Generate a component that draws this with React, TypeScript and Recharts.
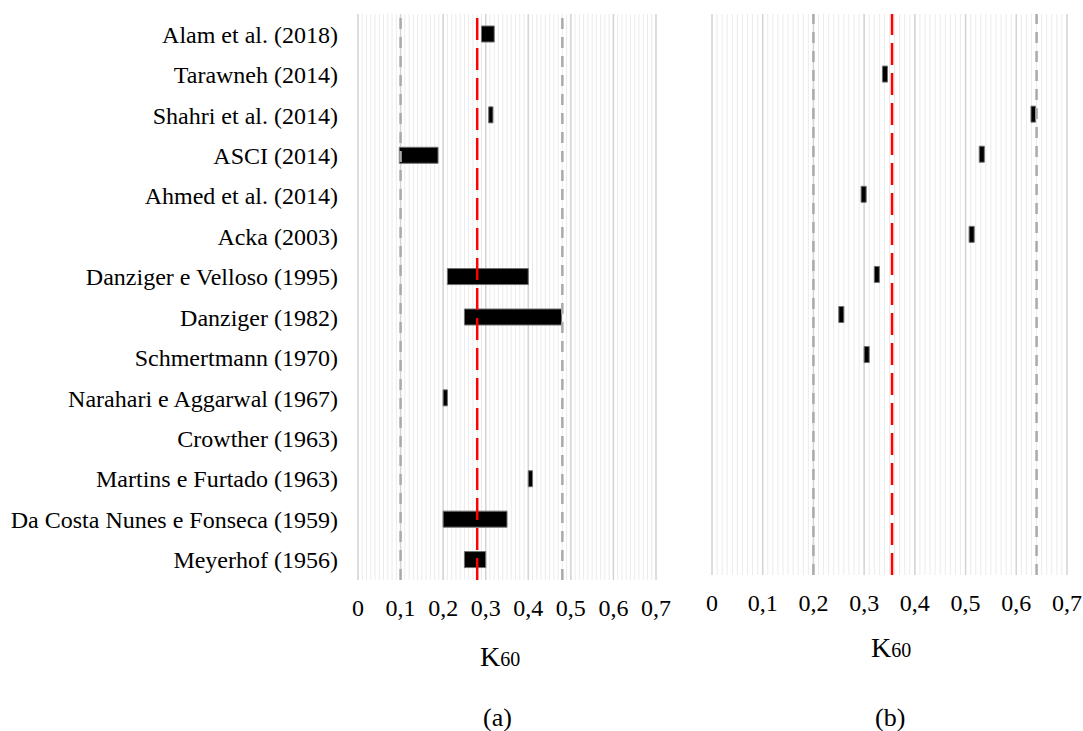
import { BarChart, Bar, XAxis, YAxis, CartesianGrid, ReferenceLine } from 'recharts';

const categories = [
  'Alam et al. (2018)',
  'Tarawneh (2014)',
  'Shahri et al. (2014)',
  'ASCI (2014)',
  'Ahmed et al. (2014)',
  'Acka (2003)',
  'Danziger e Velloso (1995)',
  'Danziger (1982)',
  'Schmertmann (1970)',
  'Narahari e Aggarwal (1967)',
  'Crowther (1963)',
  'Martins e Furtado (1963)',
  'Da Costa Nunes e Fonseca (1959)',
  'Meyerhof (1956)',
];

// (a) ranges of K60 per author
const leftLow = [0.29, null, 0.307, 0.097, null, null, 0.21, 0.25, null, 0.2, null, 0.4, 0.2, 0.25];
const leftHigh = [0.32, null, 0.317, 0.188, null, null, 0.4, 0.478, null, 0.21, null, 0.41, 0.35, 0.3];

// (b)
const rightLow = [null, 0.336, 0.629, 0.527, 0.294, 0.507, 0.32, 0.25, 0.3, null, null, null, null, null];
const rightHigh = [null, 0.346, 0.638, 0.537, 0.304, 0.517, 0.33, 0.26, 0.31, null, null, null, null, null];

const majorTicks = [0, 0.1, 0.2, 0.3, 0.4, 0.5, 0.6, 0.7];
const minorTicks: number[] = [];
for (let i = 0; i <= 70; i++) minorTicks.push(i / 100);

const leftLines = { lower: 0.1, mean: 0.28, upper: 0.48 };
const rightLines = { lower: 0.2, mean: 0.355, upper: 0.64 };

const font = 'Liberation Serif, Times New Roman, serif';

const buildRows = (low: (number | null)[], high: (number | null)[]) =>
  categories.map((name, i) => ({
    name,
    base: low[i],
    span: low[i] != null && high[i] != null ? (high[i] as number) - (low[i] as number) : null,
  }));

const fmt = (v: number) => (v === 0 ? '0' : v.toFixed(1).replace('.', ','));

type PanelProps = {
  rows: ReturnType<typeof buildRows>;
  lines: { lower: number; mean: number; upper: number };
  showLabels: boolean;
  width: number;
  margin: { top: number; right: number; left: number; bottom: number };
};

function Panel({ rows, lines, showLabels, width, margin }: PanelProps) {
  return (
    <BarChart width={width} height={640} data={rows} layout="vertical" margin={margin} barSize={16}>
      <CartesianGrid horizontal={false} verticalValues={minorTicks} stroke="#ebebeb" strokeWidth={1} />
      <CartesianGrid horizontal={false} verticalValues={majorTicks} stroke="#d4d4d4" strokeWidth={1.5} />
      <XAxis
        type="number"
        domain={[0, 0.7]}
        ticks={majorTicks}
        tickFormatter={fmt}
        axisLine={false}
        tickLine={false}
        tickSize={0}
        tickMargin={19}
        height={40}
        interval={0}
        tick={{ fill: '#000', fontSize: 24, fontFamily: font }}
      />
      <YAxis
        type="category"
        dataKey="name"
        hide={!showLabels}
        width={showLabels ? 358 : 0}
        axisLine={false}
        tickLine={false}
        tickSize={0}
        tickMargin={20}
        interval={0}
        tick={{ fill: '#000', fontSize: 24, fontFamily: font }}
      />
      <Bar dataKey="base" stackId="r" fill="transparent" isAnimationActive={false} />
      <Bar dataKey="span" stackId="r" fill="#000" stroke="#6f6f6f" strokeWidth={1} isAnimationActive={false} />
      <ReferenceLine x={lines.lower} stroke="#aaaaaa" strokeWidth={2.5} strokeDasharray="11 8" />
      <ReferenceLine x={lines.upper} stroke="#aaaaaa" strokeWidth={2.5} strokeDasharray="11 8" />
      <ReferenceLine x={lines.mean} stroke="#ff0000" strokeWidth={2.5} strokeDasharray="22 8" />
    </BarChart>
  );
}

const textStyle = { position: 'absolute' as const, fontFamily: font, color: '#000', whiteSpace: 'nowrap' as const };

function K60({ left, top }: { left: number; top: number }) {
  return (
    <div style={{ ...textStyle, left, top, fontSize: 28, lineHeight: '32px' }}>
      K<span style={{ fontSize: 20 }}>60</span>
    </div>
  );
}

export default function App() {
  return (
    <div style={{ position: 'absolute', left: 0, top: 0, width: 1083, height: 731, background: '#fff' }}>
      <div style={{ position: 'absolute', left: 0, top: 0 }}>
        <Panel
          rows={buildRows(leftLow, leftHigh)}
          lines={leftLines}
          showLabels
          width={680}
          margin={{ top: 14, right: 24, left: 0, bottom: 20 }}
        />
      </div>
      <div style={{ position: 'absolute', left: 700, top: 0 }}>
        <Panel
          rows={buildRows(rightLow, rightHigh)}
          lines={rightLines}
          showLabels={false}
          width={383}
          margin={{ top: 14, right: 16, left: 12, bottom: 25 }}
        />
      </div>
      <K60 left={480} top={641} />
      <K60 left={871} top={632} />
      <div style={{ ...textStyle, left: 483, top: 703, fontSize: 26, lineHeight: '30px' }}>(a)</div>
      <div style={{ ...textStyle, left: 875, top: 703, fontSize: 26, lineHeight: '30px' }}>(b)</div>
    </div>
  );
}
